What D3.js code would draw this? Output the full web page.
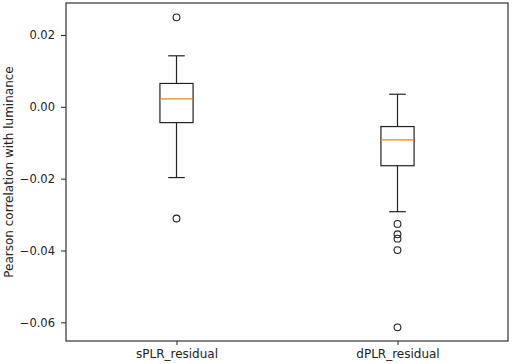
<!DOCTYPE html>
<html>
<head>
<meta charset="utf-8">
<script src="https://cdn.jsdelivr.net/npm/d3@7"></script>
<style>
  body { margin: 0; background: white; }
  text { font-family: "DejaVu Sans", sans-serif; }
</style>
</head>
<body>
<div id="chart"></div>
<script>
let w = 512;
let h = 364;
let margin = {top: 3, right: 4, bottom: 23, left: 66};

// box statistics
let groups = ["sPLR_residual", "dPLR_residual"];
let whiskerLow = [-0.0197, -0.0292];
let q1 = [-0.0044, -0.0164];
let medians = [0.0022, -0.0092];
let q3 = [0.0065, -0.0055];
let whiskerHigh = [0.0142, 0.0035];
let outliers = [
    [0.0249, -0.0311],
    [-0.0326, -0.0355, -0.0367, -0.0399, -0.0614]
];
let yTicks = [0.02, 0.00, -0.02, -0.04, -0.06];

let svg = d3.select("#chart").append("svg")
    .attr("width", w)
    .attr("height", h);

let x = d3.scaleLinear().domain([0.5, 2.5]).range([margin.left, w - margin.right]);
let y = d3.scaleLinear().domain([-0.0652, 0.0289]).range([h - margin.bottom, margin.top]);

let boxW = x(1.15) - x(1);
let capW = boxW / 2;

let data = groups.map(function(g, i){
    return {name: g, pos: i + 1, lo: whiskerLow[i], q1: q1[i], med: medians[i],
            q3: q3[i], hi: whiskerHigh[i], fliers: outliers[i]};
});

let boxes = svg.selectAll(".box").data(data).enter()
    .append("g")
    .attr("class", "box");

// whiskers
boxes.append("line")
    .attr("x1", d => x(d.pos)).attr("x2", d => x(d.pos))
    .attr("y1", d => y(d.q3)).attr("y2", d => y(d.hi))
    .attr("stroke", "#222").attr("stroke-width", 1.2);
boxes.append("line")
    .attr("x1", d => x(d.pos)).attr("x2", d => x(d.pos))
    .attr("y1", d => y(d.q1)).attr("y2", d => y(d.lo))
    .attr("stroke", "#222").attr("stroke-width", 1.2);
// caps
boxes.append("line")
    .attr("x1", d => x(d.pos) - capW / 2).attr("x2", d => x(d.pos) + capW / 2)
    .attr("y1", d => y(d.hi)).attr("y2", d => y(d.hi))
    .attr("stroke", "#222").attr("stroke-width", 1.2);
boxes.append("line")
    .attr("x1", d => x(d.pos) - capW / 2).attr("x2", d => x(d.pos) + capW / 2)
    .attr("y1", d => y(d.lo)).attr("y2", d => y(d.lo))
    .attr("stroke", "#222").attr("stroke-width", 1.2);
// box
boxes.append("rect")
    .attr("x", d => x(d.pos) - boxW / 2)
    .attr("width", boxW)
    .attr("y", d => y(d.q3))
    .attr("height", d => y(d.q1) - y(d.q3))
    .attr("fill", "none")
    .attr("stroke", "#222").attr("stroke-width", 1.2);
// median
boxes.append("line")
    .attr("x1", d => x(d.pos) - boxW / 2).attr("x2", d => x(d.pos) + boxW / 2)
    .attr("y1", d => y(d.med)).attr("y2", d => y(d.med))
    .attr("stroke", "#ff7f0e").attr("stroke-width", 1.2);
// fliers
boxes.selectAll(".flier").data(d => d.fliers.map(v => ({pos: d.pos, v: v}))).enter()
    .append("circle")
    .attr("class", "flier")
    .attr("cx", d => x(d.pos))
    .attr("cy", d => y(d.v))
    .attr("r", 3.4)
    .attr("fill", "none")
    .attr("stroke", "#222").attr("stroke-width", 1.1);

// axes
let yAxis = d3.axisLeft(y).tickValues(yTicks).tickSize(5).tickPadding(6)
    .tickFormat(d => (d < 0 ? "\u2212" : "") + Math.abs(d).toFixed(2));
let xAxis = d3.axisBottom(x).tickValues([1, 2]).tickSize(4).tickPadding(4)
    .tickFormat((d, i) => groups[i]);

let gy = svg.append("g")
    .attr("transform", "translate(" + margin.left + ",0)")
    .call(yAxis);
let gx = svg.append("g")
    .attr("transform", "translate(0," + (h - margin.bottom) + ")")
    .call(xAxis);
svg.selectAll(".domain").remove();
svg.selectAll(".tick line").attr("stroke", "#222");
gy.selectAll(".tick text")
    .attr("fill", "#222")
    .style("font-size", "11.5px")
    .style("font-family", "DejaVu Sans");
gx.selectAll(".tick text")
    .attr("fill", "#222")
    .style("font-size", "12px")
    .style("font-family", "DejaVu Sans");

// frame
svg.append("rect")
    .attr("x", margin.left)
    .attr("y", margin.top)
    .attr("width", w - margin.right - margin.left)
    .attr("height", h - margin.bottom - margin.top)
    .attr("fill", "none")
    .attr("stroke", "#333")
    .attr("stroke-width", 1.2);

svg.append("text")
    .attr("transform", "translate(13," + ((margin.top + h - margin.bottom) / 2) + ") rotate(-90)")
    .attr("text-anchor", "middle")
    .attr("fill", "#222")
    .style("font-size", "12px")
    .text("Pearson correlation with luminance");
</script>
</body>
</html>
